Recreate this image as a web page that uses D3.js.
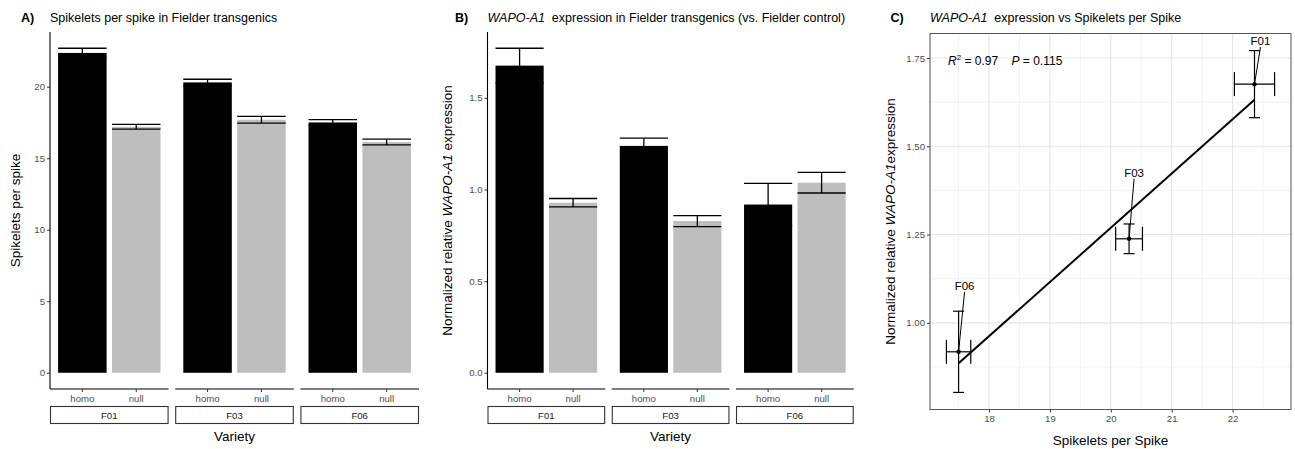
<!DOCTYPE html>
<html><head><meta charset="utf-8">
<script src="https://cdn.jsdelivr.net/npm/d3@7"></script>
<style>
body{margin:0;background:#fff}
text{font-family:"Liberation Sans",Arial,Helvetica,sans-serif;white-space:pre}
</style>
</head><body>
<svg id="chart" width="1295" height="449"></svg>
<script>
// ---------------- data ----------------
const varieties = ["F01", "F03", "F06"];
const genotypes = ["homo", "null"];
// per variety: [homo, null]
const spikeletMean = [[22.36, 17.20], [20.30, 17.69], [17.50, 16.13]];
const spikeletSE   = [[0.33, 0.17], [0.22, 0.24], [0.20, 0.20]];
const exprMean     = [[1.676, 0.928], [1.238, 0.828], [0.918, 1.037]];
const exprSE       = [[0.095, 0.023], [0.042, 0.030], [0.115, 0.056]];
const ticksA = [0, 5, 10, 15, 20];
const ticksB = [0, 0.5, 1.0, 1.5];
const ticksCx = [18, 19, 20, 21, 22];
const ticksCy = [1.00, 1.25, 1.50, 1.75];
const r2Text = "0.97";
const pText = "0.115";

// ---------------- drawing ----------------
const svg = d3.select("#chart");
const FILL = {homo: "#000000", null: "#BEBEBE"};
const TOP = 32, BOTTOM = 389;
const TICK_FS = 9.6;

function tag(x, letter) {
  svg.append("text").attr("x", x).attr("y", 21.5).attr("font-size", 12.5)
    .attr("font-weight", "bold").attr("fill", "#000").text(letter);
}
function title(x, parts) {
  const t = svg.append("text").attr("x", x).attr("y", 21.5).attr("font-size", 12.5).attr("fill", "#000");
  parts.forEach(p => t.append("tspan").attr("font-style", p.i ? "italic" : "normal").text(p.t));
}
function yTitle(x, yc, parts) {
  const t = svg.append("text").attr("transform", `translate(${x},${yc}) rotate(-90)`)
    .attr("text-anchor", "middle").attr("font-size", 13.5).attr("fill", "#000");
  parts.forEach(p => t.append("tspan").attr("font-style", p.i ? "italic" : "normal").text(p.t));
}
function styleTicks(sel) {
  sel.select(".domain").remove();
  sel.selectAll(".tick line").attr("stroke", "#333");
  sel.selectAll(".tick text").attr("fill", "#4D4D4D").attr("font-size", TICK_FS)
    .attr("font-family", "Liberation Sans, Arial, sans-serif");
}

function barPanel(left, right, means, ses, ticks, fmt) {
  const g = svg.append("g");
  const hi = d3.max(means.flatMap((m, i) => m.map((v, j) => v + ses[i][j])));
  const pad = hi * 0.05;
  const y = d3.scaleLinear().domain([-pad, hi + pad]).range([BOTTOM, TOP]);
  const facet = d3.scaleBand().domain(varieties).range([left, right]).paddingInner(0.053);
  const inner = d3.scaleBand().domain(genotypes).range([0, facet.bandwidth()])
    .paddingInner(0.1).paddingOuter(0.15);

  // y axis
  const ya = g.append("g").attr("transform", `translate(${left},0)`)
    .call(d3.axisLeft(y).tickValues(ticks).tickFormat(fmt).tickSize(3).tickPadding(2));
  styleTicks(ya);
  g.append("line").attr("x1", left).attr("x2", left).attr("y1", TOP).attr("y2", BOTTOM)
    .attr("stroke", "#000").attr("stroke-width", 1.1);

  varieties.forEach((v, i) => {
    const fx = facet(v);
    const fg = g.append("g").attr("transform", `translate(${fx},0)`);
    // bars
    genotypes.forEach((gt, j) => {
      const bx = inner(gt), bw = inner.bandwidth();
      fg.append("rect").attr("x", bx).attr("width", bw)
        .attr("y", y(means[i][j])).attr("height", y(0) - y(means[i][j]))
        .attr("fill", FILL[gt]);
    });
    // error bars
    genotypes.forEach((gt, j) => {
      const bx = inner(gt), bw = inner.bandwidth(), cx = bx + bw / 2;
      const lo = y(means[i][j] - ses[i][j]), up = y(means[i][j] + ses[i][j]);
      const eb = fg.append("g").attr("stroke", "#000").attr("stroke-width", 1.3);
      eb.append("line").attr("x1", cx).attr("x2", cx).attr("y1", lo).attr("y2", up);
      eb.append("line").attr("x1", bx).attr("x2", bx + bw).attr("y1", lo).attr("y2", lo);
      eb.append("line").attr("x1", bx).attr("x2", bx + bw).attr("y1", up).attr("y2", up);
    });
    // x axis for facet
    fg.append("line").attr("x1", 0).attr("x2", facet.bandwidth()).attr("y1", BOTTOM).attr("y2", BOTTOM)
      .attr("stroke", "#000").attr("stroke-width", 1.1);
    genotypes.forEach(gt => {
      const cx = inner(gt) + inner.bandwidth() / 2;
      fg.append("line").attr("x1", cx).attr("x2", cx).attr("y1", BOTTOM).attr("y2", BOTTOM + 3)
        .attr("stroke", "#333");
      fg.append("text").attr("x", cx).attr("y", 401.5).attr("text-anchor", "middle")
        .attr("font-size", TICK_FS).attr("fill", "#4D4D4D").text(gt);
    });
    // strip
    fg.append("rect").attr("x", 0.5).attr("y", 406.5).attr("width", facet.bandwidth() - 1).attr("height", 17)
      .attr("fill", "#fff").attr("stroke", "#333").attr("stroke-width", 1.1);
    fg.append("text").attr("x", facet.bandwidth() / 2).attr("y", 418.5).attr("text-anchor", "middle")
      .attr("font-size", TICK_FS).attr("fill", "#1A1A1A").text(v);
  });
  svg.append("text").attr("x", (left + right) / 2).attr("y", 440.5).attr("text-anchor", "middle")
    .attr("font-size", 13.5).attr("fill", "#000").text("Variety");
}

// Panel A
tag(21, "A)");
title(50, [{t: "Spikelets per spike in Fielder transgenics"}]);
barPanel(50, 419, spikeletMean, spikeletSE, ticksA, d3.format("d"));
yTitle(20, (TOP + BOTTOM) / 2, [{t: "Spikelets per spike"}]);

// Panel B
tag(455, "B)");
title(487.5, [{t: "WAPO-A1", i: true}, {t: "  expression in Fielder transgenics (vs. Fielder control)"}]);
barPanel(487.5, 853.7, exprMean, exprSE, ticksB, d3.format(".1f"));
yTitle(452, (TOP + BOTTOM) / 2, [{t: "Normalized relative "}, {t: "WAPO-A1", i: true}, {t: " expression"}]);

// Panel C (scatter of homo means)
(function () {
  const L = 930, R = 1291, T = 33.5, B = 409.5;
  const pts = varieties.map((v, i) => ({
    name: v, x: spikeletMean[i][0], xe: spikeletSE[i][0], y: exprMean[i][0], ye: exprSE[i][0]
  }));
  const xlo = d3.min(pts, d => d.x - d.xe), xhi = d3.max(pts, d => d.x + d.xe);
  const ylo = d3.min(pts, d => d.y - d.ye), yhi = d3.max(pts, d => d.y + d.ye);
  const x = d3.scaleLinear().domain([xlo - (xhi - xlo) * 0.05, xhi + (xhi - xlo) * 0.05]).range([L, R]);
  const y = d3.scaleLinear().domain([ylo - (yhi - ylo) * 0.05, yhi + (yhi - ylo) * 0.05]).range([B, T]);
  const g = svg.append("g");
  g.append("rect").attr("x", L).attr("y", T).attr("width", R - L).attr("height", B - T).attr("fill", "#fff");
  // grids
  const xMinor = ticksCx.map(t => t - 0.5).concat([ticksCx[ticksCx.length - 1] + 0.5])
    .filter(t => t > x.domain()[0] && t < x.domain()[1]);
  const yMinor = ticksCy.map(t => t - 0.125).concat([ticksCy[ticksCy.length - 1] + 0.125])
    .filter(t => t > y.domain()[0] && t < y.domain()[1]);
  xMinor.forEach(t => g.append("line").attr("x1", x(t)).attr("x2", x(t)).attr("y1", T).attr("y2", B)
    .attr("stroke", "#EBEBEB").attr("stroke-width", 0.6));
  yMinor.forEach(t => g.append("line").attr("x1", L).attr("x2", R).attr("y1", y(t)).attr("y2", y(t))
    .attr("stroke", "#EBEBEB").attr("stroke-width", 0.6));
  ticksCx.forEach(t => g.append("line").attr("x1", x(t)).attr("x2", x(t)).attr("y1", T).attr("y2", B)
    .attr("stroke", "#E6E6E6").attr("stroke-width", 1.1));
  ticksCy.forEach(t => g.append("line").attr("x1", L).attr("x2", R).attr("y1", y(t)).attr("y2", y(t))
    .attr("stroke", "#E6E6E6").attr("stroke-width", 1.1));
  // axes
  const xa = g.append("g").attr("transform", `translate(0,${B})`)
    .call(d3.axisBottom(x).tickValues(ticksCx).tickFormat(d3.format("d")).tickSize(3).tickPadding(3));
  styleTicks(xa);
  const ya = g.append("g").attr("transform", `translate(${L},0)`)
    .call(d3.axisLeft(y).tickValues(ticksCy).tickFormat(d3.format(".2f")).tickSize(3).tickPadding(2));
  styleTicks(ya);

  // regression line (least squares)
  const mx = d3.mean(pts, d => d.x), my = d3.mean(pts, d => d.y);
  const slope = d3.sum(pts, d => (d.x - mx) * (d.y - my)) / d3.sum(pts, d => (d.x - mx) ** 2);
  const icpt = my - slope * mx;
  const x0 = d3.min(pts, d => d.x), x1 = d3.max(pts, d => d.x);
  g.append("line").attr("x1", x(x0)).attr("y1", y(icpt + slope * x0))
    .attr("x2", x(x1)).attr("y2", y(icpt + slope * x1))
    .attr("stroke", "#000").attr("stroke-width", 2);

  // error bars and points
  pts.forEach(d => {
    const e = g.append("g").attr("stroke", "#000").attr("stroke-width", 1.2);
    const px = x(d.x), py = y(d.y);
    e.append("line").attr("x1", px).attr("x2", px).attr("y1", y(d.y - d.ye)).attr("y2", y(d.y + d.ye));
    e.append("line").attr("x1", px - 5.5).attr("x2", px + 5.5).attr("y1", y(d.y - d.ye)).attr("y2", y(d.y - d.ye));
    e.append("line").attr("x1", px - 5.5).attr("x2", px + 5.5).attr("y1", y(d.y + d.ye)).attr("y2", y(d.y + d.ye));
    e.append("line").attr("x1", x(d.x - d.xe)).attr("x2", x(d.x + d.xe)).attr("y1", py).attr("y2", py);
    e.append("line").attr("x1", x(d.x - d.xe)).attr("x2", x(d.x - d.xe)).attr("y1", py - 12).attr("y2", py + 12);
    e.append("line").attr("x1", x(d.x + d.xe)).attr("x2", x(d.x + d.xe)).attr("y1", py - 12).attr("y2", py + 12);
    g.append("circle").attr("cx", px).attr("cy", py).attr("r", 2.2).attr("fill", "#000");
  });
  // repelled labels (offsets relative to each point)
  const labOff = {F01: [6, -43], F03: [5, -66], F06: [6, -66]};
  pts.forEach(d => {
    const px = x(d.x), py = y(d.y), o = labOff[d.name];
    g.append("line").attr("x1", px + o[0]).attr("y1", py + o[1] + 6).attr("x2", px).attr("y2", py)
      .attr("stroke", "#000").attr("stroke-width", 1);
    g.append("text").attr("x", px + o[0]).attr("y", py + o[1] + 4).attr("text-anchor", "middle")
      .attr("font-size", 11.5).attr("fill", "#000").text(d.name);
  });
  // annotation
  const a = g.append("text").attr("x", L + 18).attr("y", T + 31.5).attr("font-size", 12).attr("fill", "#000");
  a.append("tspan").attr("font-style", "italic").text("R");
  a.append("tspan").attr("font-size", 8).attr("dy", -5).text("2");
  a.append("tspan").attr("dy", 5).text(" = " + r2Text + "    ");
  a.append("tspan").attr("font-style", "italic").text("P");
  a.append("tspan").text(" = " + pText);
  // border
  g.append("rect").attr("x", L).attr("y", T).attr("width", R - L).attr("height", B - T)
    .attr("fill", "none").attr("stroke", "#555").attr("stroke-width", 1);

  tag(890.5, "C)");
  title(L, [{t: "WAPO-A1", i: true}, {t: "  expression vs Spikelets per Spike"}]);
  svg.append("text").attr("x", (L + R) / 2).attr("y", 445).attr("text-anchor", "middle")
    .attr("font-size", 13.5).attr("fill", "#000").text("Spikelets per Spike");
  yTitle(895, (T + B) / 2, [{t: "Normalized relative "}, {t: "WAPO-A1", i: true}, {t: "expression"}]);
})();
</script>
</body></html>
